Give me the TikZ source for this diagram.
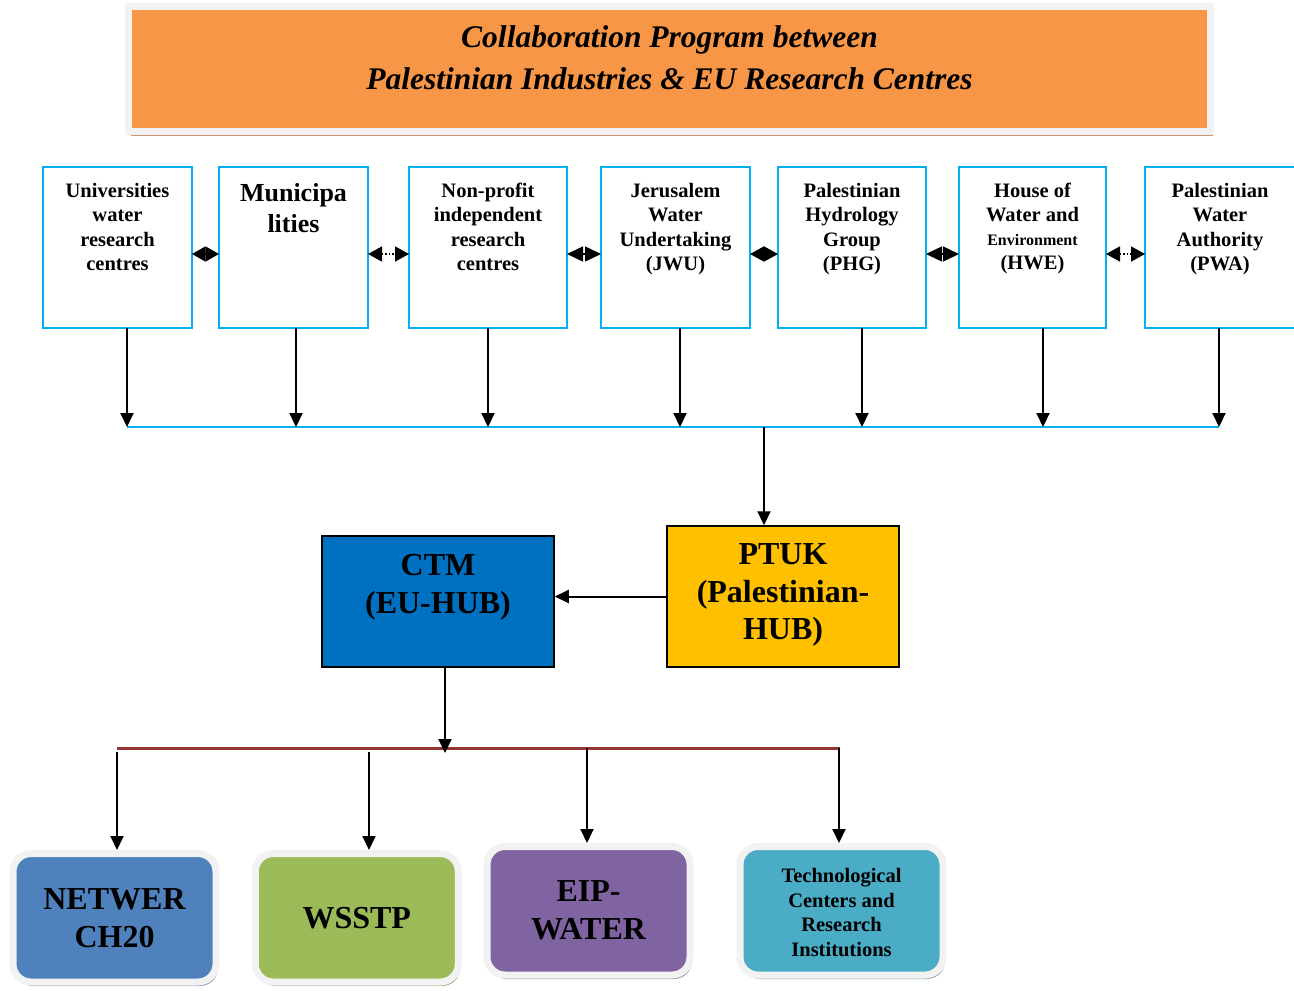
\documentclass[tikz,border=0pt]{standalone}
\usepackage{fontspec}
\setmainfont{Liberation Serif}
\usetikzlibrary{arrows.meta,shadows,calc}
\definecolor{titleor}{HTML}{F79646}
\definecolor{cyanB}{HTML}{00B0F0}
\definecolor{ptukc}{HTML}{FFC000}
\definecolor{ctmc}{HTML}{0070C0}
\definecolor{redline}{HTML}{953735}
\definecolor{frame}{HTML}{F2F2F2}
\definecolor{c1}{HTML}{4F81BD}
\definecolor{c2}{HTML}{9BBB59}
\definecolor{c3}{HTML}{8064A2}
\definecolor{c4}{HTML}{4BACC6}
\definecolor{s1}{HTML}{8D9FB9}
\definecolor{s2}{HTML}{A3B086}
\definecolor{s3}{HTML}{9C93AC}
\definecolor{s4}{HTML}{87ABB6}
\definecolor{stitle}{HTML}{C99670}
% #1 height, #2 width, #3 first-baseline offset, #4 font size, #5 baselineskip, #6 text
\newcommand\tbx[6]{\parbox[c][#1][t]{#2}{\fontsize{#4}{#5}\selectfont\centering\rule{0pt}{#3}#6}}
\begin{document}
\begin{tikzpicture}[x=1pt,y=-1pt,
  topbox/.style={draw=cyanB, line width=2pt, fill=white, minimum width=#1, minimum height=161pt, inner sep=0pt, outer sep=0pt, font=\bfseries},
  hub/.style={draw=black, line width=1.5pt, fill=#1, minimum width=232pt, inner sep=0pt, font=\bfseries},
  prog/.style={draw=frame, line width=7pt, fill=#1, rounded corners=18pt, minimum width=203pt, minimum height=128.5pt, inner sep=0pt, align=center, font=\fontsize{32pt}{38pt}\selectfont\bfseries},
  arr/.style={line width=2pt, -{Triangle[length=14pt,width=13pt]}},
  dia/.style={line width=1.5pt, {Triangle[length=#1,width=15pt]}-{Triangle[length=#1,width=15pt]}},
  dots/.style={line width=1.5pt, dash pattern=on 1.5pt off 2pt, {Triangle[length=14pt,width=15pt]}-{Triangle[length=14pt,width=15pt]}},
  ]
\useasboundingbox (0,0) rectangle (1294,991);

% title
\node[draw=frame, line width=7pt, fill=titleor, minimum width=1082pt, minimum height=125pt, inner sep=0pt,
  drop shadow={shadow xshift=2.5pt, shadow yshift=-4.5pt, fill=stitle, opacity=1},
  font=\bfseries\itshape] (title) at (669.5,69)
  {\tbx{125pt}{1060pt}{40.5pt}{31.5pt}{42.5pt}{Collaboration Program between\\Palestinian Industries \& EU Research Centres}};

% top row
\node[topbox=149pt] (b1) at (117.5,247.5) {\tbx{161pt}{145pt}{30pt}{20.5pt}{24.5pt}{Universities\\water\\research\\centres}};
\node[topbox=149pt] (b2) at (293.5,247.5) {\tbx{161pt}{145pt}{34pt}{26pt}{31pt}{Municipa\\lities}};
\node[topbox=158pt] (b3) at (488,247.5) {\tbx{161pt}{150pt}{30pt}{20.5pt}{24.5pt}{Non-profit\\independent\\research\\centres}};
\node[topbox=149pt] (b4) at (675.5,247.5) {\tbx{161pt}{145pt}{30pt}{20.5pt}{24.5pt}{Jerusalem\\Water\\Undertaking\\(JWU)}};
\node[topbox=148pt] (b5) at (852,247.5) {\tbx{161pt}{145pt}{30pt}{20.5pt}{24.5pt}{Palestinian\\Hydrology\\Group\\(PHG)}};
\node[topbox=147pt] (b6) at (1032.5,247.5) {\tbx{161pt}{145pt}{30pt}{20.5pt}{24pt}{House of\\Water and\\{\fontsize{16pt}{24pt}\selectfont Environment}\\(HWE)}};
\node[topbox=150pt] (b7) at (1220,247.5) {\tbx{161pt}{145pt}{30pt}{20.5pt}{24.5pt}{Palestinian\\Water\\Authority\\(PWA)}};

% links between top boxes
\draw[dia=13.5pt] ([yshift=-6.5pt]b1.east) -- ([yshift=-6.5pt]b2.west);
\draw[dots] ([yshift=-6.5pt]b2.east) -- ([yshift=-6.5pt]b3.west);
\draw[dia=16pt] ([yshift=-6.5pt]b3.east) -- ([yshift=-6.5pt]b4.west);
\draw[dia=14pt] ([yshift=-6.5pt]b4.east) -- ([yshift=-6.5pt]b5.west);
\draw[dia=16pt] ([yshift=-6.5pt]b5.east) -- ([yshift=-6.5pt]b6.west);
\draw[dots] ([yshift=-6.5pt]b6.east) -- ([yshift=-6.5pt]b7.west);

% bus
\coordinate (busL) at (127,427);
\coordinate (busR) at (1219,427);
\draw[cyanB, line width=2pt] (busL) -- (busR);
\coordinate (t1) at (127,427);
\coordinate (t2) at (296,427);
\coordinate (t3) at (488,427);
\coordinate (t4) at (680,427);
\coordinate (t5) at (862,427);
\coordinate (t6) at (1043,427);
\coordinate (t7) at (1219,427);
\foreach \i in {1,...,7} {\draw[arr] (b\i.south -| t\i) -- (t\i);}

% hubs
\node[hub=ptukc, minimum height=141pt] (ptuk) at (783,596.5)
  {\tbx{141pt}{225pt}{38.5pt}{32pt}{37.5pt}{PTUK\\(Palestinian-\\HUB)}};
\node[hub=ctmc, minimum height=131pt] (ctm) at (438,601.5)
  {\tbx{131pt}{225pt}{39.5pt}{32pt}{38pt}{CTM\\(EU-HUB)}};
\coordinate (tp) at (764,427);
\draw[arr] (tp) -- (ptuk.north -| tp);
\draw[arr] (ptuk.west) -- (ctm.east |- ptuk.west);

% distribution line
\coordinate (rl) at (117,748);
\coordinate (rr) at (840,748);
\draw[redline, line width=3pt] (rl) -- (rr);
\coordinate (cd) at (445,753);
\draw[arr] (ctm.south -| cd) -- (cd);

% programmes
\node[prog=c1, drop shadow={shadow xshift=2pt, shadow yshift=-4pt, fill=s1, opacity=1}] (n1) at (114.5,917.75) {NETWER\\CH20};
\node[prog=c2, drop shadow={shadow xshift=2pt, shadow yshift=-4pt, fill=s2, opacity=1}] (n2) at (356.75,917.75) {WSSTP};
\node[prog=c3, drop shadow={shadow xshift=2pt, shadow yshift=-4pt, fill=s3, opacity=1}] (n3) at (588.5,910.75) {EIP-\\WATER};
\node[prog=c4, drop shadow={shadow xshift=2pt, shadow yshift=-4pt, fill=s4, opacity=1}, font=\fontsize{20.5pt}{24.5pt}\selectfont\bfseries] (n4) at (841.5,910.75) {\raisebox{-9pt}[0pt][0pt]{\begin{tabular}{@{}c@{}}Technological\\Centers and\\Research\\Institutions\end{tabular}}};

\coordinate (r1) at (117,752);
\coordinate (r2) at (369,752);
\coordinate (r3) at (587,748);
\coordinate (r4) at (839,748);
\foreach \i in {1,...,4} {\draw[arr] (r\i) -- (n\i.north -| r\i);}
\end{tikzpicture}
\end{document}
